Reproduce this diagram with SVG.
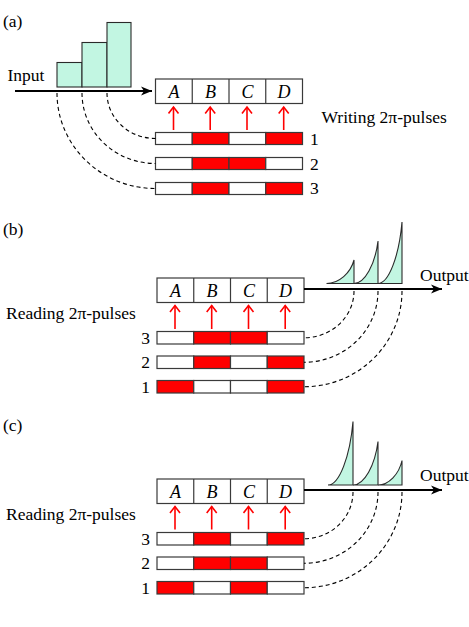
<svg xmlns="http://www.w3.org/2000/svg" width="469" height="627" viewBox="0 0 469 627">
<style>
text{font-family:"Liberation Serif","Times New Roman",serif;font-size:17.5px;fill:#000}
.it{font-style:italic;text-anchor:middle;font-size:18px}
.box{fill:#fff;stroke:#3a3a3a;stroke-width:1.2}
.w{fill:#fff;stroke:#3a3a3a;stroke-width:1.2}
.r{fill:#ff0000;stroke:#3a3a3a;stroke-width:1.2}
.aq{fill:#c2f6e2;stroke:#2a2a2a;stroke-width:1.1}
.main{fill:none;stroke:#000;stroke-width:2;marker-end:url(#bh)}
.ra{fill:none;stroke:#ff0000;stroke-width:1.6;marker-end:url(#rh)}
.ds{fill:none;stroke:#000;stroke-width:1.1;stroke-dasharray:4 3}
.num{text-anchor:end}
</style>
<defs>
<marker id="bh" viewBox="-12 -6 13 12" refX="0" refY="0" markerWidth="13" markerHeight="12" orient="auto" markerUnits="userSpaceOnUse">
<path d="M-11,-4.5 L0,0 L-11,4.5 L-8,0 Z" fill="#000"/>
</marker>
<marker id="rh" viewBox="-8 -6 10 12" refX="0" refY="0" markerWidth="10" markerHeight="12" orient="auto" markerUnits="userSpaceOnUse">
<path d="M-6.5,-5 L0,0 L-6.5,5" fill="none" stroke="#ff0000" stroke-width="1.6"/>
</marker>
</defs>

<!-- Panel (a) -->
<text x="3" y="27">(a)</text>
<g id="a-input">
<rect class="aq" x="57" y="62.5" width="25" height="24.5"/>
<rect class="aq" x="82" y="42.5" width="25" height="44.5"/>
<rect class="aq" x="107" y="22.5" width="24" height="64.5"/>
<text x="7.5" y="81">Input</text>
</g>
<g id="a-register">
<rect class="box" x="155.5" y="79" width="147" height="24.5"/>
<path d="M192.25,79 V103.5 M229,79 V103.5 M265.75,79 V103.5" stroke="#3a3a3a" stroke-width="1.2"/>
<text class="it" x="173.9" y="97.5">A</text>
<text class="it" x="210.6" y="97.5">B</text>
<text class="it" x="247.4" y="97.5">C</text>
<text class="it" x="284.1" y="97.5">D</text>
</g>
<g id="a-row1">
<rect class="w" x="155.5" y="132.5" width="36.75" height="12"/><rect class="r" x="192.25" y="132.5" width="36.75" height="12"/><rect class="w" x="229" y="132.5" width="36.75" height="12"/><rect class="r" x="265.75" y="132.5" width="36.75" height="12"/>
<text x="310" y="144.5">1</text>
</g>
<g id="a-row2">
<rect class="w" x="155.5" y="157.5" width="36.75" height="12"/><rect class="r" x="192.25" y="157.5" width="36.75" height="12"/><rect class="r" x="229" y="157.5" width="36.75" height="12"/><rect class="w" x="265.75" y="157.5" width="36.75" height="12"/>
<text x="310" y="169.5">2</text>
</g>
<g id="a-row3">
<rect class="w" x="155.5" y="182.5" width="36.75" height="12"/><rect class="r" x="192.25" y="182.5" width="36.75" height="12"/><rect class="w" x="229" y="182.5" width="36.75" height="12"/><rect class="r" x="265.75" y="182.5" width="36.75" height="12"/>
<text x="310" y="194">3</text>
</g>
<text x="321.5" y="123">Writing 2π-pulses</text>

<!-- Panel (b) -->
<text x="3" y="235">(b)</text>
<g id="b-register">
<rect class="box" x="157" y="278" width="147" height="24.5"/>
<path d="M193.75,278 V302.5 M230.5,278 V302.5 M267.25,278 V302.5" stroke="#3a3a3a" stroke-width="1.2"/>
<text class="it" x="175.4" y="296.5">A</text>
<text class="it" x="212.1" y="296.5">B</text>
<text class="it" x="248.9" y="296.5">C</text>
<text class="it" x="285.6" y="296.5">D</text>
</g>
<g id="b-row3">
<rect class="w" x="157" y="331.5" width="36.75" height="12.5"/><rect class="r" x="193.75" y="331.5" width="36.75" height="12.5"/><rect class="r" x="230.5" y="331.5" width="36.75" height="12.5"/><rect class="w" x="267.25" y="331.5" width="36.75" height="12.5"/>
<text class="num" x="150" y="343.5">3</text>
</g>
<g id="b-row2">
<rect class="w" x="157" y="356" width="36.75" height="12.5"/><rect class="r" x="193.75" y="356" width="36.75" height="12.5"/><rect class="w" x="230.5" y="356" width="36.75" height="12.5"/><rect class="r" x="267.25" y="356" width="36.75" height="12.5"/>
<text class="num" x="150" y="368">2</text>
</g>
<g id="b-row1">
<rect class="r" x="157" y="380.5" width="36.75" height="12.5"/><rect class="w" x="193.75" y="380.5" width="36.75" height="12.5"/><rect class="w" x="230.5" y="380.5" width="36.75" height="12.5"/><rect class="r" x="267.25" y="380.5" width="36.75" height="12.5"/>
<text class="num" x="150" y="392.5">1</text>
</g>
<text x="6" y="319">Reading 2π-pulses</text>
<g id="b-output">
<path class="aq" d="M326.5,283.5 C338.9,283.5 350.7,272.9 354,260 L354,283.5 Z"/>
<path class="aq" d="M354,283.5 C364.8,283.5 375.1,264.4 378,241 L378,283.5 Z"/>
<path class="aq" d="M378,283.5 C388.8,283.5 399.1,255.8 402,222 L402,283.5 Z"/>
<text x="420" y="281">Output</text>
</g>

<!-- Panel (c) -->
<text x="3" y="431">(c)</text>
<g id="c-register">
<rect class="box" x="157" y="479" width="147" height="24.5"/>
<path d="M193.75,479 V503.5 M230.5,479 V503.5 M267.25,479 V503.5" stroke="#3a3a3a" stroke-width="1.2"/>
<text class="it" x="175.4" y="497.5">A</text>
<text class="it" x="212.1" y="497.5">B</text>
<text class="it" x="248.9" y="497.5">C</text>
<text class="it" x="285.6" y="497.5">D</text>
</g>
<g id="c-row3">
<rect class="w" x="157" y="532.5" width="36.75" height="12.5"/><rect class="r" x="193.75" y="532.5" width="36.75" height="12.5"/><rect class="w" x="230.5" y="532.5" width="36.75" height="12.5"/><rect class="r" x="267.25" y="532.5" width="36.75" height="12.5"/>
<text class="num" x="150" y="544.5">3</text>
</g>
<g id="c-row2">
<rect class="w" x="157" y="557" width="36.75" height="12.5"/><rect class="r" x="193.75" y="557" width="36.75" height="12.5"/><rect class="r" x="230.5" y="557" width="36.75" height="12.5"/><rect class="w" x="267.25" y="557" width="36.75" height="12.5"/>
<text class="num" x="150" y="569">2</text>
</g>
<g id="c-row1">
<rect class="r" x="157" y="581.5" width="36.75" height="12.5"/><rect class="w" x="193.75" y="581.5" width="36.75" height="12.5"/><rect class="r" x="230.5" y="581.5" width="36.75" height="12.5"/><rect class="w" x="267.25" y="581.5" width="36.75" height="12.5"/>
<text class="num" x="150" y="593.5">1</text>
</g>
<text x="6" y="520">Reading 2π-pulses</text>
<g id="c-output">
<path class="aq" d="M328,485 C339.3,485 350,456.4 353,421.5 L353,485 Z"/>
<path class="aq" d="M353,485 C364.3,485 375,465.4 378,441.5 L378,485 Z"/>
<path class="aq" d="M378,485 C388.8,485 399.1,474 402,460.5 L402,485 Z"/>
<text x="420" y="481">Output</text>
</g>

<g id="connectors">
<path class="main" d="M15,91 H152"/>
<path class="main" d="M304,289 H442"/>
<path class="main" d="M304,490 H442"/>
<path class="ra" d="M173.5,130 V107"/>
<path class="ra" d="M210.2,130 V107"/>
<path class="ra" d="M247,130 V107"/>
<path class="ra" d="M283.7,130 V107"/>
<path class="ra" d="M175,329 V305.5"/>
<path class="ra" d="M211.7,329 V305.5"/>
<path class="ra" d="M248.5,329 V305.5"/>
<path class="ra" d="M285.2,329 V305.5"/>
<path class="ra" d="M175,529.5 V506.5"/>
<path class="ra" d="M211.7,529.5 V506.5"/>
<path class="ra" d="M248.5,529.5 V506.5"/>
<path class="ra" d="M285.2,529.5 V506.5"/>
<path class="ds" d="M107,93 A48.5 45.5 0 0 0 155.5 138.5"/>
<path class="ds" d="M82,93 A73.5 70.5 0 0 0 155.5 163.5"/>
<path class="ds" d="M57,93 A98.5 95.5 0 0 0 155.5 188.5"/>
<path class="ds" d="M354,291 A50 46.75 0 0 1 304 337.75"/>
<path class="ds" d="M378,291 A74 71.25 0 0 1 304 362.25"/>
<path class="ds" d="M402,291 A98 95.75 0 0 1 304 386.75"/>
<path class="ds" d="M353,492 A49 46.75 0 0 1 304 538.75"/>
<path class="ds" d="M378,492 A74 71.25 0 0 1 304 563.25"/>
<path class="ds" d="M402,492 A98 95.75 0 0 1 304 587.75"/>
</g>
</svg>
